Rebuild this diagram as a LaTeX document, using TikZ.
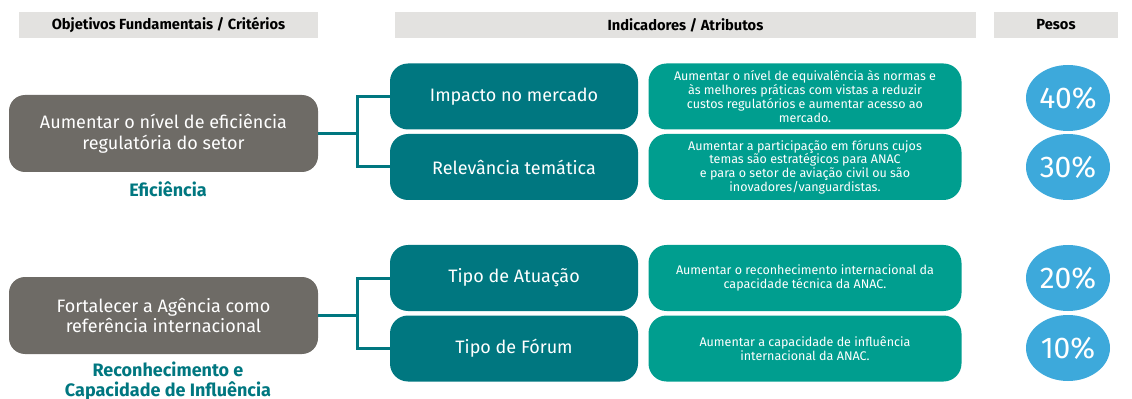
\documentclass[tikz,border=0pt]{standalone}
\usepackage{fontspec}
\setmainfont{Fira Sans}
\usetikzlibrary{positioning, calc, shapes.geometric}

\definecolor{hdrgray}{HTML}{E3E2E0}
\definecolor{objgray}{HTML}{6E6B66}
\definecolor{indteal}{HTML}{007780}
\definecolor{desteal}{HTML}{009E8F}
\definecolor{pctblue}{HTML}{3DA9DB}

% sizes below are in pt (1px of the layout = 0.75pt)
\tikzset{
    header/.style={fill=hdrgray, minimum height=19.5pt, inner sep=0pt, font=\fontsize{11}{13}\selectfont\bfseries},
    objbox/.style={fill=objgray, rounded corners=12pt, minimum width=231.75pt, minimum height=57.75pt, inner sep=0pt,
        text=white, align=center, font=\fontsize{13.5}{15.5}\selectfont},
    objlabel/.style={text=indteal, align=center, font=\fontsize{13.5}{15}\selectfont\bfseries},
    indbox/.style={fill=indteal, rounded corners=13.5pt, minimum width=186pt, minimum height=49.5pt, inner sep=0pt,
        text=white, font=\fontsize{13.5}{15}\selectfont},
    desbox/.style={fill=desteal, rounded corners=13.5pt, minimum width=234.75pt, minimum height=49.5pt, inner sep=0pt,
        text=white, align=center, font=\fontsize{9.4}{10.3}\selectfont},
    pct/.style={ellipse, fill=pctblue, minimum width=63pt, minimum height=49.5pt, inner sep=0pt,
        text=white, font=\fontsize{22.5}{24}\selectfont},
    link/.style={draw=indteal, line width=2.25pt}
}

\begin{document}
\begin{tikzpicture}[x=0.75pt, y=-0.75pt]
    \useasboundingbox (0,0) rectangle (1132,399);

    % column headers
    \node[header, minimum width=224.25pt] (h1) at (168.5,25) {Objetivos Fundamentais / Critérios};
    \node[header, minimum width=435.75pt] (h2) at (685.5,25) {Indicadores / Atributos};
    \node[header, minimum width=93pt] (h3) at (1056,25) {Pesos};

    % objectives
    \node[objbox] (obj1) at (163.5,133.5) {Aumentar o nível de eficiência\\regulatória do setor};
    \node[objlabel] (lab1) at (168,189) {Eficiência};
    \node[objbox] (obj2) at (163.5,315.5) {Fortalecer a Agência como\\referência internacional};
    \node[objlabel] (lab2) at (168,381) {Reconhecimento e\\Capacidade de Influência};

    % indicators
    \node[indbox] (ind1) at (514,96.5) {Impacto no mercado};
    \node[indbox] (ind2) at (514,167) {Relevância temática};
    \node[indbox] (ind3) at (514,278) {Tipo de Atuação};
    \node[indbox] (ind4) at (514,348.5) {Tipo de Fórum};

    % descriptions
    \node[desbox] (des1) at (805,96.5) {Aumentar o nível de equivalência às normas e\\às melhores práticas com vistas a reduzir\\custos regulatórios e aumentar acesso ao\\mercado.};
    \node[desbox] (des2) at (805,167) {Aumentar a participação em fóruns cujos\\temas são estratégicos para ANAC\\e para o setor de aviação civil ou são\\inovadores/vanguardistas.};
    \node[desbox] (des3) at (805,278) {Aumentar o reconhecimento internacional da\\capacidade técnica da ANAC.};
    \node[desbox] (des4) at (805,348.5) {Aumentar a capacidade de influência\\internacional da ANAC.};

    % weights
    \node[pct] (p1) at (1068,98) {40\%};
    \node[pct] (p2) at (1068,167) {30\%};
    \node[pct] (p3) at (1068,278) {20\%};
    \node[pct] (p4) at (1068,348) {10\%};

    % connectors
    \coordinate (b1) at (357,133.5);
    \coordinate (b2) at (357,315.5);
    \draw[link] (obj1.east) -- (b1);
    \draw[link] (ind1.west) -| (b1) |- (ind2.west);
    \draw[link] (obj2.east) -- (b2);
    \draw[link] (ind3.west) -| (b2) |- (ind4.west);
\end{tikzpicture}
\end{document}
